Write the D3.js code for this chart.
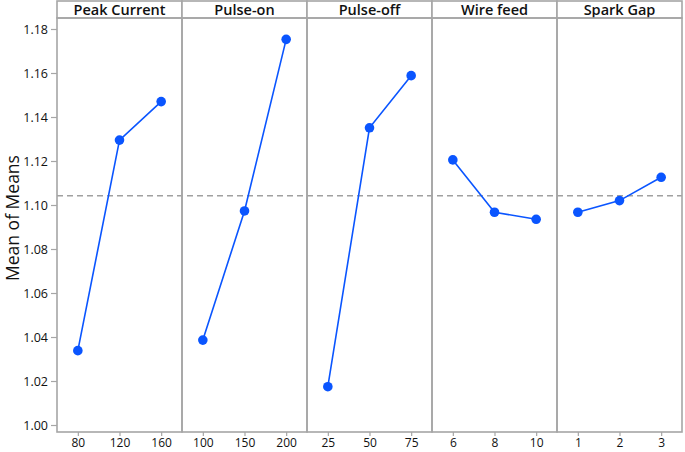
<!DOCTYPE html>
<html><head><meta charset="utf-8">
<script src="https://cdn.jsdelivr.net/npm/d3@7"></script>
<style>body{margin:0;background:#fff}</style>
</head><body>
<svg id="c" width="685" height="452"></svg>
<script>
const factors = ["Peak Current", "Pulse-on", "Pulse-off", "Wire feed", "Spark Gap"];
const levels = [["80","120","160"],["100","150","200"],["25","50","75"],["6","8","10"],["1","2","3"]];
const means = [
  [1.0338, 1.1295, 1.1470],
  [1.0386, 1.0973, 1.1753],
  [1.0174, 1.1351, 1.1588],
  [1.1205, 1.0967, 1.0935],
  [1.0967, 1.1020, 1.1126]
];
const grandMean = 1.1042;
const yTicks = [1.00,1.02,1.04,1.06,1.08,1.10,1.12,1.14,1.16,1.18];

const svg = d3.select("#c");
const L = 57, R = 682, T = 18, B = 432, HT = 1;
const font = "'Open Sans', sans-serif";
const blue = "#0a55ff", gray = "#a6a6a6";

const y = d3.scaleLinear().domain([0.99682, 1.18500]).range([B, T]);
const px = d3.scaleBand().domain(factors).range([L, R]);

// grand mean dashed line
svg.append("line").attr("x1", L).attr("x2", R)
  .attr("y1", y(grandMean)).attr("y2", y(grandMean))
  .attr("stroke", "#a0a0a0").attr("stroke-width", 1.3).attr("stroke-dasharray", "6,4");

factors.forEach((f, i) => {
  const x0 = px(f), w = px.bandwidth();
  const x = d3.scalePoint().domain(levels[i]).range([x0, x0 + w]).padding(0.5);
  const g = svg.append("g");
  const pts = levels[i].map((lv, j) => [x(lv), y(means[i][j])]);
  g.append("path").attr("d", d3.line()(pts)).attr("fill", "none")
    .attr("stroke", blue).attr("stroke-width", 1.6);
  g.selectAll("circle").data(pts).join("circle")
    .attr("cx", d => d[0]).attr("cy", d => d[1]).attr("r", 4.8).attr("fill", blue);
  // x axis
  const ax = svg.append("g").attr("transform", `translate(0,${B})`)
    .call(d3.axisBottom(x).tickSize(4).tickPadding(2));
  ax.select(".domain").remove();
  ax.selectAll("line").attr("stroke", gray).attr("stroke-width", 1.2);
  ax.selectAll("text").attr("font-family", font).attr("font-size", 12).attr("font-weight", 500).attr("fill", "#111");
  // header
  svg.append("rect").attr("x", x0).attr("y", HT).attr("width", w).attr("height", T - HT)
    .attr("fill", "#fff").attr("stroke", gray).attr("stroke-width", 1.6);
  svg.append("text").attr("x", x0 + w / 2).attr("y", 15).attr("text-anchor", "middle")
    .attr("font-family", font).attr("font-weight", 600).attr("font-size", 14.5)
    .attr("fill", "#111").text(f);
  // panel border
  svg.append("rect").attr("x", x0).attr("y", T).attr("width", w).attr("height", B - T)
    .attr("fill", "none").attr("stroke", gray).attr("stroke-width", 1.6);
});

// y axis
const ay = svg.append("g").attr("transform", `translate(${L},0)`)
  .call(d3.axisLeft(y).tickValues(yTicks).tickFormat(d3.format(".2f")).tickSize(6).tickPadding(3));
ay.select(".domain").remove();
ay.selectAll("line").attr("stroke", gray).attr("stroke-width", 1.2);
ay.selectAll("text").attr("font-family", font).attr("font-size", 12.5).attr("font-weight", 500).attr("fill", "#111");

svg.append("text").attr("transform", "translate(19,218) rotate(-90)")
  .attr("text-anchor", "middle").attr("font-family", font).attr("font-size", 17.5)
  .attr("font-weight", 500).attr("fill", "#111").text("Mean of Means");
</script>
</body></html>
